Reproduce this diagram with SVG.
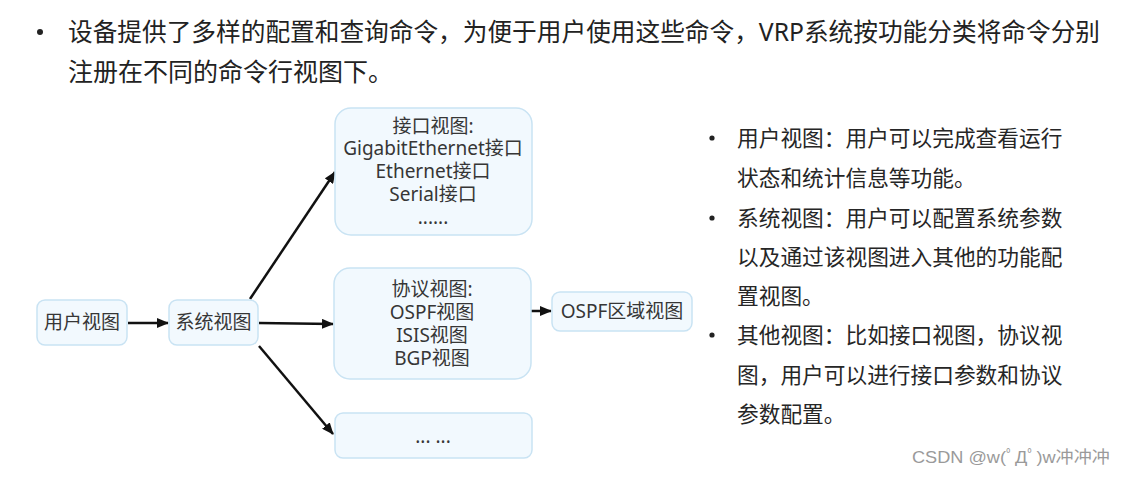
<svg xmlns="http://www.w3.org/2000/svg" width="1123" height="478" viewBox="0 0 1123 478">
<defs>
<marker id="ah" markerUnits="userSpaceOnUse" markerWidth="12" markerHeight="10" refX="11" refY="5" orient="auto">
<path d="M0,0 L12,5 L0,10 Z" fill="#111"/>
</marker>
<style>
.t{font-family:"Noto Sans","Noto Sans CJK SC",sans-serif;fill:#222}
.n{font-family:"Noto Sans","Noto Sans CJK SC",sans-serif;font-size:19px;fill:#363636;text-anchor:middle}
.box{fill:#f2f9fe;stroke:#c9e3f3;stroke-width:1.5}
.c{stroke:#111;stroke-width:2.5;fill:none;marker-end:url(#ah)}
.side{font-family:"Noto Sans CJK SC",sans-serif;font-size:21.7px;fill:#262626}
</style>
</defs>
<rect width="1123" height="478" fill="#fff"/>
<g id="title">
<circle cx="40" cy="32" r="3" fill="#222"/>
<text class="t" x="68" y="41" font-size="25" textLength="1032" lengthAdjust="spacingAndGlyphs">设备提供了多样的配置和查询命令，为便于用户使用这些命令，VRP系统按功能分类将命令分别</text>
<text class="t" x="68" y="81" font-size="25">注册在不同的命令行视图下。</text>
</g>
<g id="connectors">
<line class="c" x1="128" y1="323" x2="168" y2="323"/>
<line class="c" x1="259" y1="323" x2="333" y2="324"/>
<line class="c" x1="250" y1="299" x2="335" y2="172"/>
<line class="c" x1="259" y1="346" x2="333" y2="434"/>
<line class="c" x1="482" y1="311" x2="551" y2="311"/>
</g>
<g id="user-view">
<rect class="box" x="37" y="300" width="90" height="45" rx="8"/>
<text class="n" x="82" y="329">用户视图</text>
</g>
<g id="system-view">
<rect class="box" x="169" y="300" width="89" height="45" rx="8"/>
<text class="n" x="213.5" y="329">系统视图</text>
</g>
<g id="interface-view">
<rect class="box" x="335" y="108" width="197" height="127" rx="16"/>
<text class="n" x="433" y="133">接口视图:</text>
<text class="n" x="433" y="155">GigabitEthernet接口</text>
<text class="n" x="433" y="178">Ethernet接口</text>
<text class="n" x="433" y="201">Serial接口</text>
<text class="n" x="433" y="224" font-size="14">......</text>
</g>
<g id="protocol-view">
<rect class="box" x="334" y="268" width="197" height="111" rx="16"/>
<text class="n" x="432" y="296">协议视图:</text>
<text class="n" x="432" y="319">OSPF视图</text>
<text class="n" x="432" y="342">ISIS视图</text>
<text class="n" x="432" y="365">BGP视图</text>
</g>
<g id="ospf-area-view">
<rect class="box" x="552" y="292" width="140" height="39" rx="8"/>
<text class="n" x="622" y="318">OSPF区域视图</text>
</g>
<g id="other-view">
<rect class="box" x="335" y="413" width="197" height="45" rx="8"/>
<text class="n" x="433" y="443" font-size="14">... ...</text>
</g>
<g id="notes">
<circle cx="712" cy="138" r="2.6" fill="#222"/>
<circle cx="712" cy="218" r="2.6" fill="#222"/>
<circle cx="712" cy="335" r="2.6" fill="#222"/>
<text class="side" x="737" y="146">用户视图：用户可以完成查看运行</text>
<text class="side" x="737" y="186">状态和统计信息等功能。</text>
<text class="side" x="737" y="226">系统视图：用户可以配置系统参数</text>
<text class="side" x="737" y="265">以及通过该视图进入其他的功能配</text>
<text class="side" x="737" y="304">置视图。</text>
<text class="side" x="737" y="343">其他视图：比如接口视图，协议视</text>
<text class="side" x="737" y="383">图，用户可以进行接口参数和协议</text>
<text class="side" x="737" y="422">参数配置。</text>
</g>
<text x="912" y="463" font-family="'Liberation Sans','Noto Sans CJK SC',sans-serif" font-size="17" fill="#9a9a9a" textLength="198" lengthAdjust="spacingAndGlyphs">CSDN @w(ﾟДﾟ)w冲冲冲</text>
</svg>
